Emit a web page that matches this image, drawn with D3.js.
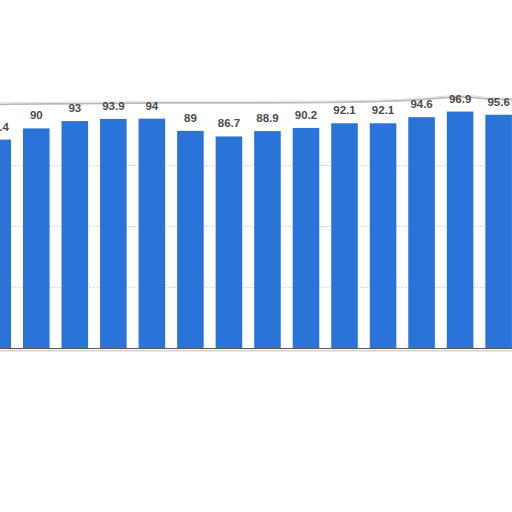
<!DOCTYPE html>
<html>
<head>
<meta charset="utf-8">
<script src="https://cdn.jsdelivr.net/npm/d3@7"></script>
<style>
	html, body {
		margin: 0;
		padding: 0;
		background: #ffffff;
	}

	svg {
		display: block;
	}

	text.value {
		font-family: "Liberation Sans", Arial, sans-serif;
		font-weight: bold;
		font-size: 11.5px;
		fill: #4b4b4b;
	}
</style>
</head>
<body>
<div id="chart"></div>
<script>
	// Bars visible in the cropped screenshot, left to right
	const categories = ["c1", "c2", "c3", "c4", "c5", "c6", "c7", "c8", "c9", "c10", "c11", "c12", "c13", "c14"];
	const values = [85.4, 90, 93, 93.9, 94, 89, 86.7, 88.9, 90.2, 92.1, 92.1, 94.6, 96.9, 95.6];
	const labels = ["85.4", "90", "93", "93.9", "94", "89", "86.7", "88.9", "90.2", "92.1", "92.1", "94.6", "96.9", "95.6"];
	const gridTicks = [25, 50, 75];

	const theme = {
		width: 512,
		height: 512,
		barColor: "#2a74d9",
		gridColor: "#d2d2d2",
		axisColor: "#5a5a5a",
		edgeColor: "#b9b9b9",
	};

	const svg = d3
		.select("#chart")
		.append("svg")
		.attr("width", theme.width)
		.attr("height", theme.height);

	const x = d3
		.scaleBand()
		.domain(categories)
		.range([-21.5, 517.9])
		.paddingInner(0.31)
		.paddingOuter(0.155);

	const y = d3.scaleLinear().domain([0, 100]).range([348, 104]);

	// Dotted horizontal gridlines behind the bars
	svg
		.append("g")
		.selectAll("line")
		.data(gridTicks)
		.enter()
		.append("line")
		.attr("x1", 0)
		.attr("x2", theme.width)
		.attr("y1", (d) => Math.round(y(d)) + 0.5)
		.attr("y2", (d) => Math.round(y(d)) + 0.5)
		.attr("stroke", theme.gridColor)
		.attr("stroke-width", 1)
		.attr("stroke-dasharray", "1.5,1.5");

	// Bars
	svg
		.append("g")
		.selectAll("rect")
		.data(values)
		.enter()
		.append("rect")
		.attr("x", (d, i) => x(categories[i]))
		.attr("y", (d) => y(d))
		.attr("width", x.bandwidth())
		.attr("height", (d) => y(0) - y(d))
		.attr("fill", theme.barColor);

	// Baseline and the lower torn edge
	svg
		.append("line")
		.attr("x1", 0)
		.attr("x2", theme.width)
		.attr("y1", y(0) + 0.5)
		.attr("y2", y(0) + 0.5)
		.attr("stroke", theme.axisColor)
		.attr("stroke-width", 1.2);

	svg
		.append("line")
		.attr("x1", 0)
		.attr("x2", theme.width)
		.attr("y1", y(0) + 2.8)
		.attr("y2", y(0) + 2.8)
		.attr("stroke", "#d4d4d4")
		.attr("stroke-width", 1.5);

	// Upper torn edge of the screenshot crop
	const edge = [
		[0, 104.3], [80, 103.6], [160, 102.8], [250, 103], [330, 102.6],
		[390, 101.2], [425, 99.5], [448, 97], [470, 96.8], [485, 99], [512, 99.6],
	];

	svg
		.append("path")
		.attr("d", d3.line().curve(d3.curveBasis)(edge))
		.attr("fill", "none")
		.attr("stroke", theme.edgeColor)
		.attr("stroke-width", 1.8);

	svg
		.append("path")
		.attr("d", d3.line().curve(d3.curveBasis)(edge.map(([px, py]) => [px, py - 1.5])))
		.attr("fill", "none")
		.attr("stroke", "#e6e6e6")
		.attr("stroke-width", 1.2);

	// Value labels above each bar
	svg
		.append("g")
		.selectAll("text")
		.data(values)
		.enter()
		.append("text")
		.attr("class", "value")
		.attr("x", (d, i) => x(categories[i]) + x.bandwidth() / 2)
		.attr("y", (d) => y(d) - 9)
		.attr("text-anchor", "middle")
		.text((d, i) => labels[i]);
</script>
</body>
</html>
